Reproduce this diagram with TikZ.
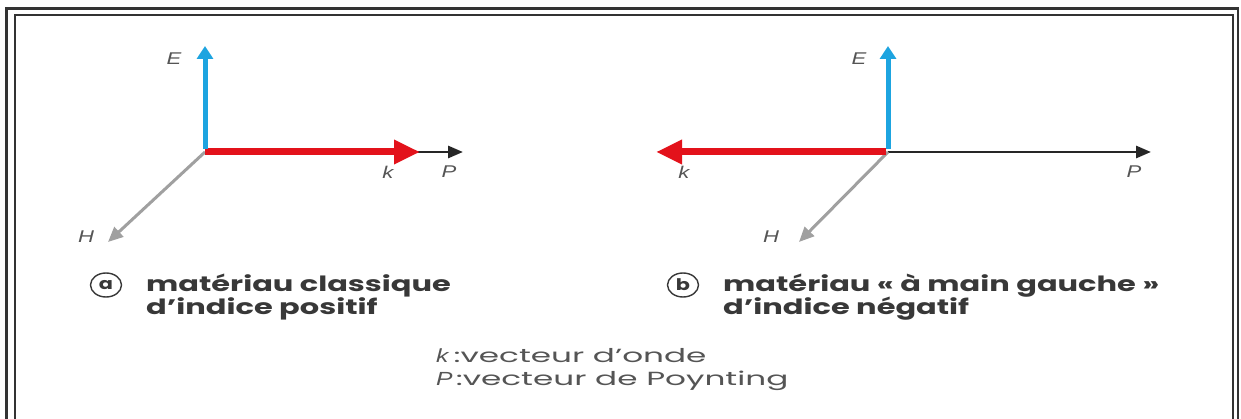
\documentclass[tikz,border=0pt]{standalone}
\usepackage{fontspec}
\setsansfont{Liberation Sans}
\newfontfamily\capfont{Poppins}
\usetikzlibrary{arrows.meta,shapes.geometric}
\definecolor{ecyan}{HTML}{1DA4E0}
\definecolor{kred}{HTML}{E3121B}
\definecolor{hgray}{HTML}{A0A0A0}
\definecolor{txt}{HTML}{383838}
\definecolor{lbl}{HTML}{555555}
\newcommand{\capx}[1]{\scalebox{1.45}[1]{#1}}
\newcommand{\legx}[1]{\scalebox{1.72}[1]{#1}}
\newcommand{\lblx}[1]{\scalebox{1.3}[1]{#1}}
\tikzset{
  frame/.style={line width=2.2pt, black!80},
  evec/.style={ecyan, line width=5pt, -{Triangle[length=13pt,width=16pt]}},
  kvec/.style={kred, line width=7pt, -{Triangle[length=26pt,width=23pt]}},
  pvec/.style={black!85, line width=2.8pt, -{Triangle[length=15pt,width=12pt]}},
  hvec/.style={hgray, line width=3pt, -{Triangle[length=15pt,width=13pt]}},
  vlabel/.style={lbl, font=\sffamily\itshape\fontsize{17}{17}\selectfont, inner sep=0pt},
  caption/.style={txt, font=\capfont\bfseries\fontsize{21}{24}\selectfont, anchor=base west, inner sep=0pt},
  legend/.style={lbl, font=\capfont\fontsize{19}{23}\selectfont, anchor=base west, inner sep=0pt},
  tag/.style={draw=txt, line width=1.4pt, ellipse, minimum width=31pt, minimum height=24pt, inner sep=0pt, txt, font=\capfont\bfseries\fontsize{16}{16}\selectfont}
}
\begin{document}
\begin{tikzpicture}[x=1pt,y=-1pt]
\useasboundingbox (0,0) rectangle (1241,419);
\fill[white] (0,0) rectangle (1241,419);
% frame
\draw[frame] (6.5,419) -- (6.5,8.5) -- (1238,8.5) -- (1238,419);
\draw[frame] (15,419) -- (15,15) -- (1233,15) -- (1233,419);

% ---- diagram a
\coordinate (Oa) at (205,152);
\coordinate (Ea) at (205,46);
\coordinate (Ka) at (420,152);
\coordinate (Pa) at (463,152);
\coordinate (Ha) at (108,242);
\coordinate (Ps) at (410,152);
\draw[pvec] (Ps) -- (Pa);
\draw[hvec] (Oa) -- (Ha);
\draw[kvec] (Oa) -- (Ka);
\draw[evec] ([yshift=3pt]Oa) -- (Ea);
\node[vlabel] (lEa) at (174,59) {\lblx{E}};
\node[vlabel] (lKa) at (388,172) {\lblx{k}};
\node[vlabel] (lPa) at (449,172) {\lblx{P}};
\node[vlabel] (lHa) at (86,237) {\lblx{H}};
\node[tag] (ta) at (106,285) {\lblx{a}};
\node[caption] (ca1) at (146,291) {\capx{matériau classique}};
\node[caption] (ca2) at (146,315) {\capx{d’indice positif}};

% ---- diagram b
\coordinate (Ob) at (888,152);
\coordinate (Eb) at (888,46);
\coordinate (Kb) at (656,152);
\coordinate (Pb) at (1151,152);
\coordinate (Hb) at (799,242);
\draw[pvec] (Ob) -- (Pb);
\draw[hvec] (Ob) -- (Hb);
\draw[kvec] ([xshift=-2pt]Ob) -- (Kb);
\draw[evec] ([yshift=3pt]Ob) -- (Eb);
\node[vlabel] (lEb) at (859,59) {\lblx{E}};
\node[vlabel] (lKb) at (684,172) {\lblx{k}};
\node[vlabel] (lPb) at (1134,172) {\lblx{P}};
\node[vlabel] (lHb) at (771,237) {\lblx{H}};
\node[tag] (tb) at (683,285) {\lblx{b}};
\node[caption] (cb1) at (723,291) {\capx{matériau « à main gauche »}};
\node[caption] (cb2) at (723,315) {\capx{d’indice négatif}};

% ---- legend
\node[legend] (l1) at (436,362) {\lblx{\sffamily\itshape k}\ \legx{:vecteur d’onde}};
\node[legend] (l2) at (436,385) {\lblx{\sffamily\itshape P}\,\legx{:vecteur de Poynting}};
\end{tikzpicture}
\end{document}
